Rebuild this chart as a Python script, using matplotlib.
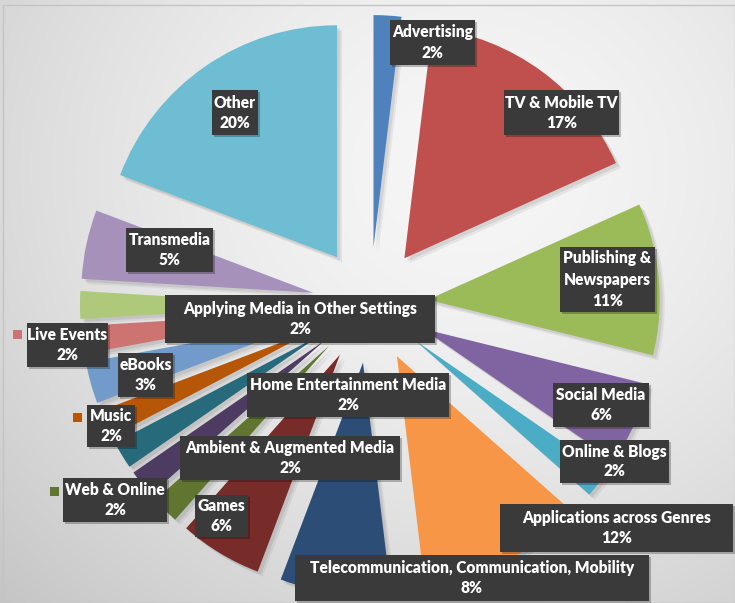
import numpy as np
import matplotlib
matplotlib.use('Agg')
import matplotlib.pyplot as plt
from matplotlib.patches import Rectangle

# ── Data (clockwise from 12 o'clock) ───────────────────────────────────────
categories = [
    'Advertising', 'TV & Mobile TV', 'Publishing &\nNewspapers', 'Social Media',
    'Online & Blogs', 'Applications across Genres',
    'Telecommunication, Communication, Mobility', 'Games', 'Web & Online',
    'Ambient & Augmented Media', 'Home Entertainment Media', 'Music', 'eBooks',
    'Live Events', 'Applying Media in Other Settings', 'Transmedia', 'Other',
]
shares = [2, 17, 11, 6, 2, 12, 8, 6, 2, 2, 2, 2, 3, 2, 2, 5, 20]
colors = [
    '#4F81BD', '#C0504D', '#9BBB59', '#8064A2', '#4BACC6', '#F79646',
    '#2C4D75', '#772C2A', '#5F7530', '#4D3B62', '#276A7C', '#B65708',
    '#729ACA', '#CD7371', '#AFC97A', '#A591BA', '#6FBDD3',
]

# label boxes in picture pixels (x0, y0, x1, y1), y measured from the top
label_boxes = {
    'Advertising': (390, 20, 475, 65),
    'TV & Mobile TV': (504, 90, 619, 135),
    'Publishing &\nNewspapers': (560, 247, 655, 312),
    'Social Media': (553, 383, 649, 427),
    'Online & Blogs': (560, 440, 669, 483),
    'Applications across Genres': (500, 504, 733, 552),
    'Telecommunication, Communication, Mobility': (295, 555, 649, 601),
    'Games': (195, 495, 248, 537),
    'Web & Online': (63, 478, 167, 522),
    'Ambient & Augmented Media': (180, 436, 400, 480),
    'Home Entertainment Media': (247, 373, 449, 417),
    'Music': (87, 405, 135, 447),
    'eBooks': (118, 353, 173, 397),
    'Live Events': (27, 323, 108, 367),
    'Applying Media in Other Settings': (165, 295, 435, 343),
    'Transmedia': (126, 228, 213, 272),
    'Other': (212, 90, 258, 135),
}
# small colour keys next to some outside labels
key_boxes = {
    'Live Events': (13, 330, 22, 339),
    'Music': (73, 413, 82, 422),
    'Web & Online': (50, 487, 59, 496),
}

W, H = 735, 603
CX, CY = 370, 305      # pie centre (picture pixels)
RADIUS = 232
EXPLODE = 58

fig = plt.figure(figsize=(W / 100, H / 100), dpi=100)
ax = fig.add_axes([0, 0, 1, 1])

# ── background: soft grey radial gradient ──────────────────────────────────
yy, xx = np.mgrid[0:H, 0:W]
d = np.hypot((xx - 470) / 620, (yy - 170) / 560)
bg = np.clip(0.965 - 0.17 * d ** 1.6, 0, 1)
ax.imshow(np.dstack([bg, bg, bg]), extent=(0, W, 0, H), origin='upper',
          zorder=0, interpolation='bilinear')
ax.add_patch(Rectangle((3, 0), W - 3, H - 5, fill=False, ec='#C4C4C4',
                       lw=1.0, zorder=1))


def fy(y):
    return H - y


# ── soft shadow under the slices ───────────────────────────────────────────
for off, a in [(5, 0.06), (3, 0.08)]:
    ax.pie(shares, colors=['#000000'] * len(shares), startangle=90,
           counterclock=False, radius=RADIUS, center=(CX + off, fy(CY) - off),
           explode=[EXPLODE] * len(shares), frame=True,
           wedgeprops=dict(linewidth=0, alpha=a, zorder=2))

# ── the pie itself ─────────────────────────────────────────────────────────
ax.pie(shares, colors=colors, startangle=90, counterclock=False,
       radius=RADIUS, center=(CX, fy(CY)), explode=[EXPLODE] * len(shares),
       frame=True, wedgeprops=dict(linewidth=0, zorder=3))

# ── data labels ────────────────────────────────────────────────────────────
font = dict(family=['Lato', 'DejaVu Sans'], fontweight='heavy', fontsize=11.2,
            color='white', ha='center', va='center', zorder=7)
for name, share in zip(categories, shares):
    x0, y0, x1, y1 = label_boxes[name]
    ax.add_patch(Rectangle((x0 + 2, fy(y1) - 2), x1 - x0, y1 - y0,
                           fc='black', alpha=0.25, lw=0, zorder=5))
    ax.add_patch(Rectangle((x0, fy(y1)), x1 - x0, y1 - y0,
                           fc='#3A3A3A', lw=0, zorder=6))
    lines = name.split('\n') + [f'{share}%']
    xc = (x0 + x1) / 2
    yc = (y0 + y1) / 2
    step = 21 if len(lines) == 3 else 20
    for i, txt in enumerate(lines):
        ax.text(xc, fy(yc + (i - (len(lines) - 1) / 2) * step), txt, **font)

for name, (x0, y0, x1, y1) in key_boxes.items():
    c = colors[categories.index(name)]
    ax.add_patch(Rectangle((x0, fy(y1)), x1 - x0, y1 - y0, fc=c, lw=0,
                           zorder=6))

ax.set_xlim(0, W)
ax.set_ylim(0, H)
ax.set_aspect('equal')
ax.axis('off')

fig.savefig('out.png', dpi=100)
plt.close(fig)
